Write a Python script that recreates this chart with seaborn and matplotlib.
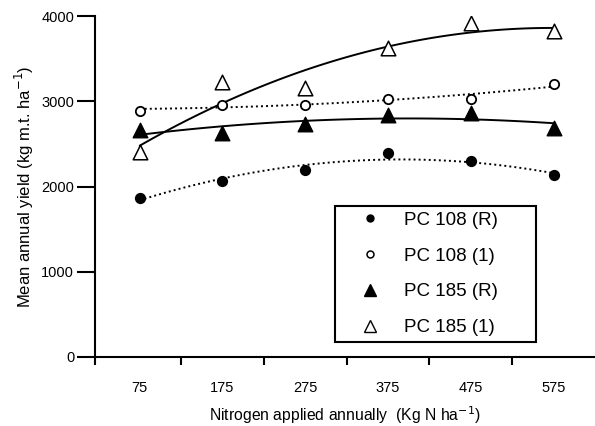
import numpy as np
import pandas as pd
import matplotlib
matplotlib.use("Agg")
import matplotlib.pyplot as plt
from matplotlib.lines import Line2D
import seaborn as sns

nitrogen = [75, 175, 275, 375, 475, 575]
pc108_r = [1870, 2060, 2190, 2390, 2300, 2130]
pc108_1 = [2890, 2960, 2960, 3030, 3030, 3200]
pc185_r = [2660, 2630, 2730, 2840, 2860, 2690]
pc185_1 = [2400, 3220, 3150, 3620, 3920, 3820]
labels = ["PC 108 (R)", "PC 108 (1)", "PC 185 (R)", "PC 185 (1)"]
yticks = [0, 1000, 2000, 3000, 4000]
xticklabels = ["75", "175", "275", "375", "475", "575"]

sns.set_style("ticks")
plt.rcParams['font.family'] = ['Liberation Sans', 'DejaVu Sans']
plt.rcParams['text.color'] = 'black'

fig = plt.figure(figsize=(5.95, 4.26), dpi=100)
ax = fig.add_axes([95/595, 1-357/426, 1-95/595, (357-16)/426])

dotted = (0, (1, 1.6))
series = [
    (pc108_r, 'o', dict(s=50, facecolors='black', edgecolors='black', linewidths=1), dotted),
    (pc108_1, 'o', dict(s=45, facecolors='white', edgecolors='black', linewidths=1.3), dotted),
    (pc185_r, '^', dict(s=110, facecolors='black', edgecolors='black', linewidths=1), '-'),
    (pc185_1, '^', dict(s=110, facecolors='white', edgecolors='black', linewidths=1.1), '-'),
]
for vals, mk, skw, ls in series:
    df = pd.DataFrame({"x": nitrogen, "y": vals})
    sns.regplot(data=df, x="x", y="y", order=2, ci=None, ax=ax, marker=mk,
                scatter_kws=dict(skw, zorder=3, alpha=1), color='black',
                line_kws=dict(linestyle=ls, linewidth=1.4, color='black', zorder=2))

ax.set_xlim(21, 625)
ax.set_ylim(0, 4000)
ax.set_yticks(yticks)
ax.set_yticklabels([str(v) for v in yticks])
ax.set_xticks([21, 125, 225, 325, 425, 525])
ax.set_xticklabels([])
ax.set_xticks(nitrogen, minor=True)
ax.set_xticklabels(xticklabels, minor=True)
ax.tick_params(axis='y', which='major', direction='out', length=13, width=1.5,
               labelsize=10.5, pad=2, colors='black', left=True)
ax.tick_params(axis='x', which='major', direction='out', length=6, width=1.5,
               colors='black', bottom=True)
ax.tick_params(axis='x', which='minor', length=0, labelsize=10.5, pad=17, colors='black',
               bottom=True)
for s in ['top', 'right']:
    ax.spines[s].set_visible(False)
for s in ['left', 'bottom']:
    ax.spines[s].set_linewidth(1.5)
    ax.spines[s].set_color('black')

ax.set_xlabel("Nitrogen applied annually  (Kg N ha$^{-1}$)", fontsize=11.3, labelpad=7,
              color='black')
ax.set_ylabel("Mean annual yield (kg m.t. ha$^{-1}$)", fontsize=12, labelpad=4,
              color='black')

handles = [
    Line2D([], [], linestyle='none', marker='o', ms=5, mfc='black', mec='black'),
    Line2D([], [], linestyle='none', marker='o', ms=5, mfc='white', mec='black', mew=1.1),
    Line2D([], [], linestyle='none', marker='^', ms=8, mfc='black', mec='black'),
    Line2D([], [], linestyle='none', marker='^', ms=8, mfc='white', mec='black', mew=1),
]
leg = ax.legend(handles, labels, loc='lower left', bbox_to_anchor=(0.48, 0.044, 0.402, 0.422),
                mode='expand', fontsize=13.5, frameon=True, fancybox=False,
                edgecolor='black', borderpad=0.3, labelspacing=1.0, handlelength=3.1,
                handletextpad=0.3, borderaxespad=0, labelcolor='black')
leg.get_frame().set_linewidth(1.5)
leg.get_frame().set_alpha(1)

fig.savefig("out.png", dpi=100)
